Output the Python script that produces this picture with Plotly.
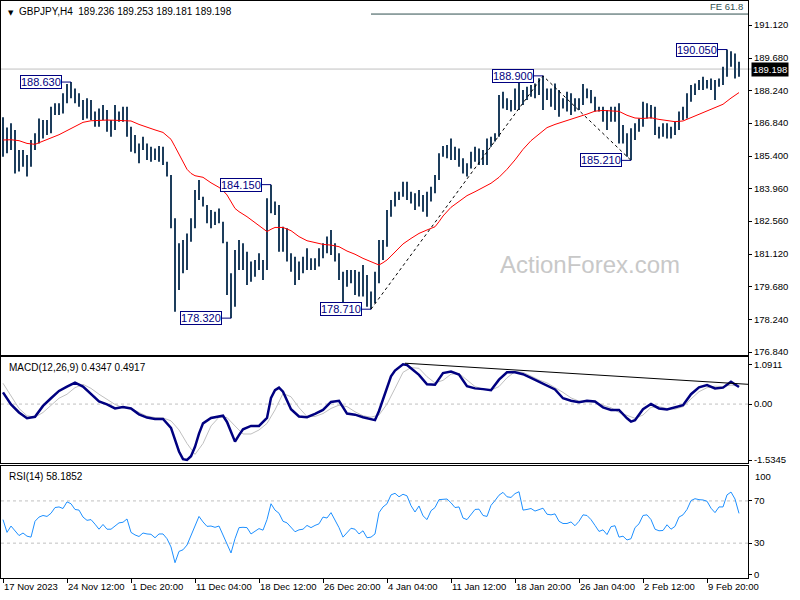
import plotly.graph_objects as go

# ---------------- data ----------------
symbol_text = "GBPJPY,H4"
last_ohlc = [189.236, 189.253, 189.181, 189.198]
BARS_PER_SAMPLE = 2  # every sample below summarises two H4 bars

bar_high = [187.09,186.65,186.83,186.54,185.66,185.66,185.44,186.10,186.39,187.04,
            186.97,186.97,187.55,187.70,187.70,188.14,188.55,188.63,188.35,188.14,
            187.85,187.92,187.85,187.34,187.48,187.63,187.41,186.97,187.63,187.34,
            187.55,187.55,186.68,186.32,185.95,186.24,185.95,185.81,185.73,185.84,
            185.81,185.15,184.57,182.68,181.59,181.73,182.02,182.68,183.92,184.35,
            183.62,183.26,183.04,182.97,183.11,182.53,181.66,180.28,181.30,181.73,
            181.59,181.22,180.79,180.86,181.15,180.86,183.55,184.15,183.41,183.26,
            182.31,182.24,181.15,181.00,180.79,181.00,181.37,180.93,180.93,181.37,
            181.59,181.88,182.17,181.59,181.15,180.35,180.42,180.42,180.42,180.35,
            180.64,180.20,179.48,180.35,181.73,181.73,183.04,183.48,183.84,183.84,
            184.28,184.28,183.84,183.77,183.92,183.70,183.84,184.06,184.57,185.52,
            185.84,185.88,186.17,185.81,185.73,185.30,185.08,185.59,185.81,185.73,
            185.66,186.17,186.24,186.39,188.06,188.21,187.92,187.85,188.35,188.85,
            188.28,188.43,188.50,188.57,188.80,188.90,188.35,188.35,188.57,188.28,
            187.92,188.21,188.14,187.92,187.92,188.55,188.35,188.28,187.99,187.55,
            187.55,187.41,187.55,187.55,187.70,186.75,186.39,186.61,186.83,187.04,
            187.77,187.70,187.63,187.55,186.68,186.83,186.83,186.68,186.90,187.34,
            187.55,188.14,188.50,188.57,188.72,188.86,188.72,188.79,188.72,188.79,
            189.30,190.05,189.98,189.88,189.52]
bar_low = [185.37,185.52,185.66,184.64,184.72,184.93,184.50,184.93,185.66,185.95,
           186.17,186.32,186.39,187.19,187.19,187.26,187.70,187.92,187.70,187.55,
           186.97,187.04,186.97,186.68,186.68,186.97,186.46,186.24,186.54,186.90,
           186.90,186.24,185.59,185.52,185.08,185.66,185.23,185.15,185.23,185.15,
           185.01,184.50,182.24,178.60,179.55,180.28,180.42,181.66,182.24,183.48,
           183.19,182.46,182.24,182.39,182.46,181.59,179.33,178.32,178.82,180.42,
           180.42,179.77,179.91,180.13,180.42,179.99,180.42,182.90,182.82,181.22,
           181.22,180.79,180.35,179.77,179.99,180.28,180.42,180.42,180.42,180.57,
           180.93,181.15,181.08,180.79,179.99,178.97,179.69,179.84,179.33,179.26,
           179.26,178.82,178.71,178.97,179.84,180.86,181.44,182.75,183.19,183.48,
           183.62,183.48,183.33,183.04,183.19,182.97,182.75,183.41,183.77,184.35,
           185.37,185.30,185.23,185.23,184.93,184.64,184.50,184.86,185.15,185.01,
           185.01,185.01,185.81,186.03,186.24,187.48,187.41,187.34,187.41,187.41,
           187.63,187.85,187.99,187.92,188.06,187.41,187.85,187.55,187.41,187.12,
           187.48,187.34,187.19,187.34,187.41,187.63,187.92,187.70,187.34,187.34,
           186.90,186.54,186.90,186.90,185.95,185.95,185.37,185.21,186.10,186.46,
           186.68,187.04,187.04,186.32,186.17,186.24,186.17,186.17,186.32,186.54,
           186.97,187.04,187.77,188.06,188.28,188.28,188.35,188.28,187.85,188.43,
           188.50,188.86,189.30,188.79,188.86]

ma_k = [0,2,4,6,8,10,12,14,16,18,20,22,24,26,28,30,32,34,36,38,40,42,
        43,44,45,46,47,48,50,52,54,55,56,57,58,59,61,63,65,66,67,68,
        70,72,74,76,78,80,82,84,86,88,90,92,93,94,95,96,97,98,
        100,102,104,106,108,109,110,
        112,114,116,118,120,122,124,126,128,130,132,134,136,138,140,142,144,146,
        148,150,152,154,156,158,160,162,164,166,168,170,172,174,176,178,180,182,184]
ma_val = [186.10,186.11,186.07,185.95,185.91,186.04,186.20,186.33,186.51,186.69,186.87,
          186.94,186.97,186.97,186.96,186.96,186.93,186.78,186.65,186.54,186.43,186.13,
          185.81,185.49,185.12,184.82,184.64,184.54,184.47,184.23,184.03,183.89,183.70,
          183.41,183.11,182.97,182.75,182.49,182.24,182.10,182.20,182.28,
          182.28,182.14,181.88,181.70,181.62,181.54,181.51,181.44,181.25,181.11,180.93,180.79,
          180.71,180.64,180.74,180.86,181.03,181.22,
          181.56,181.80,182.02,182.17,182.31,182.53,182.78,
          183.16,183.41,183.67,183.84,184.02,184.21,184.47,184.82,185.23,185.69,186.07,186.36,
          186.64,186.78,186.90,187.03,187.12,187.23,187.36,187.39,187.36,187.35,187.18,187.06,
          187.04,187.07,187.00,186.96,186.90,186.93,187.07,187.23,187.38,187.50,187.66,187.93,188.17]

macd_k = [0,2,4,6,8,10,12,14,16,18,
          20,22,24,26,28,30,32,34,36,38,
          40,42,43,44,45,46,47,48,49,50,
          52,54,55,56,57,58,59,60,62,64,
          66,67,68,69,70,71,72,74,76,78,
          80,82,84,86,88,90,92,93,94,95,
          96,97,98,99,100,101,102,104,106,108,
          109,110,112,114,116,118,120,122,124,126,
          128,130,132,134,136,138,140,142,144,146,
          148,150,152,154,156,157,158,160,162,164,
          166,168,170,172,174,176,178,180,182,184]
macd_main = [0.32,-0.01,-0.23,-0.39,-0.35,-0.05,0.16,0.36,0.48,0.59,
             0.48,0.27,0.07,-0.01,-0.12,-0.08,-0.12,-0.28,-0.37,-0.41,
             -0.41,-0.65,-0.99,-1.30,-1.51,-1.53,-1.43,-1.17,-0.81,-0.53,
             -0.38,-0.33,-0.32,-0.49,-0.76,-1.03,-0.85,-0.69,-0.60,-0.60,
             -0.38,0.17,0.38,0.45,0.34,0.08,-0.14,-0.34,-0.36,-0.27,
             -0.16,0.06,0.09,-0.26,-0.29,-0.36,-0.42,-0.44,-0.19,0.14,
             0.45,0.76,0.92,1.01,1.09,1.07,0.98,0.80,0.54,0.53,
             0.69,0.85,0.89,0.81,0.49,0.43,0.41,0.38,0.67,0.87,
             0.87,0.82,0.72,0.61,0.50,0.40,0.16,0.09,0.05,0.09,
             0.07,-0.09,-0.16,-0.16,-0.39,-0.48,-0.44,-0.14,0.00,-0.12,
             -0.15,-0.10,-0.03,0.27,0.46,0.52,0.43,0.45,0.61,0.47]
signal_k = list(range(0, 185, 2))
macd_signal = [0.57,0.23,-0.12,-0.32,-0.36,-0.23,-0.03,0.16,0.27,0.45,
               0.54,0.43,0.27,0.13,-0.01,-0.10,-0.12,-0.23,-0.33,-0.37,
               -0.38,-0.46,-0.71,-1.08,-1.38,-1.08,-0.60,-0.36,-0.37,-0.60,
               -0.82,-0.82,-0.71,-0.53,-0.16,0.29,0.20,-0.10,-0.34,-0.34,
               -0.26,-0.12,-0.03,-0.07,-0.21,-0.32,-0.36,-0.30,0.00,0.43,
               0.87,1.00,0.98,0.75,0.58,0.65,0.82,0.84,0.66,0.48,
               0.41,0.38,0.48,0.72,0.89,0.87,0.77,0.66,0.58,0.46,
               0.32,0.17,0.08,0.06,0.05,-0.03,-0.10,-0.23,-0.32,-0.39,
               -0.30,-0.09,-0.07,-0.12,-0.14,-0.07,0.14,0.34,0.45,0.49,
               0.48,0.52,0.49]
macd_last = [0.4347, 0.4917]
macd_trend_k = [100.5, 186.5]
macd_trend_val = [1.12, 0.54]

rsi_val = [52.3,40.2,46.2,41.7,37.2,39.6,36.6,35.7,50.7,54.7,
           56.2,55.3,58.3,63.7,64.3,62.8,69.1,67.3,61.9,61.3,
           54.7,51.6,52.3,48.0,43.2,47.7,43.2,43.2,46.2,49.2,
           49.8,52.9,40.2,37.8,36.3,39.6,38.7,38.4,35.1,38.7,
           38.7,34.2,26.4,11.5,22.2,23.7,28.2,37.2,44.7,55.3,
           50.1,45.9,46.2,45.0,46.2,37.2,29.1,20.7,34.2,44.7,
           45.0,44.7,38.7,41.1,43.8,42.3,52.3,67.3,61.3,58.3,
           50.7,49.2,44.7,40.8,42.6,43.2,46.8,44.7,46.8,48.3,
           54.7,53.8,58.9,52.3,44.7,35.7,39.6,44.1,43.2,38.7,
           41.7,35.1,35.7,38.7,58.9,64.3,67.3,75.7,77.2,73.9,
           76.3,74.8,65.5,59.5,65.2,55.9,52.3,60.7,63.7,71.2,
           71.5,71.8,68.2,63.7,64.3,53.8,52.3,56.8,61.9,62.2,
           56.2,55.3,65.8,70.3,75.4,78.1,73.9,73.3,76.9,78.7,
           61.3,61.9,62.8,60.4,61.6,63.1,57.4,56.8,57.7,50.7,
           48.6,48.6,50.1,46.5,50.7,56.8,56.2,52.3,46.8,41.1,
           42.6,38.1,45.6,46.5,35.7,36.6,33.0,34.2,44.7,48.3,
           56.2,56.8,52.3,43.2,41.7,42.0,47.4,43.2,45.9,54.7,
           56.8,61.9,70.3,72.1,71.2,70.9,69.7,63.1,58.9,64.3,
           64.3,75.7,78.4,71.8,58.2]
rsi_last = 58.1852
rsi_levels = [70, 30]
rsi_bounds = [100, 0]

pivot_k = [17, 67, 57, 92, 135, 157, 181]
pivot_val = [188.630, 184.150, 178.320, 178.710, 188.900, 185.210, 190.050]
fe_k = [92, 135, 157]
fe_val = [178.710, 188.900, 185.210]
fe_level = 191.60
fe_label = "FE 61.8"

price_ticks = [191.12, 189.68, 188.24, 186.84, 185.40, 183.96, 182.56, 181.12, 179.68, 178.24, 176.84]
macd_ticks = [1.0911, 0.0, -1.5345]
macd_tick_text = ["1.0911", "0.00", "-1.5345"]
x_tick_bar = [0, 32, 64, 96, 128, 160, 192, 224, 256, 288, 320, 352]
x_tick_text = ["17 Nov 2023", "24 Nov 12:00", "1 Dec 20:00", "11 Dec 04:00", "18 Dec 12:00",
               "26 Dec 20:00", "4 Jan 04:00", "11 Jan 12:00", "18 Jan 20:00", "26 Jan 04:00",
               "2 Feb 12:00", "9 Feb 20:00"]

assert len(bar_high) == len(bar_low) == len(rsi_val)
assert len(ma_k) == len(ma_val)
assert len(macd_k) == len(macd_main)
assert len(signal_k) == len(macd_signal)

# ---------------- styling ----------------
BAR_COLOR = "#1d3d5c"
NAVY = "#000080"
FONT = "Liberation Sans"
TICK_SIZE = 9.5
X_RANGE = [-1, 372.5]
LABEL_GAP = 4.5  # bars between label box and the bar it marks

def nx(ks):
    return [k * BARS_PER_SAMPLE for k in ks]

fig = go.Figure()

# OHLC bars drawn as high-low strokes
bx, by = [], []
for k, (h, l) in enumerate(zip(bar_high, bar_low)):
    n = k * BARS_PER_SAMPLE
    bx += [n, n, None]
    by += [l, h, None]
fig.add_trace(go.Scatter(x=bx, y=by, mode="lines", line=dict(color=BAR_COLOR, width=2),
                         xaxis="x3", yaxis="y3", hoverinfo="skip"))
fig.add_trace(go.Scatter(x=nx(ma_k), y=ma_val, mode="lines", line=dict(color="#ff0000", width=1),
                         xaxis="x3", yaxis="y3", hoverinfo="skip"))
fig.add_trace(go.Scatter(x=nx(fe_k), y=fe_val, mode="lines",
                         line=dict(color="#000000", width=1, dash="dot"),
                         xaxis="x3", yaxis="y3", hoverinfo="skip"))
fig.add_trace(go.Scatter(x=[fe_k[0] * BARS_PER_SAMPLE, X_RANGE[1]], y=[fe_level, fe_level], mode="lines",
                         line=dict(color="#2f4f4f", width=1), xaxis="x3", yaxis="y3", hoverinfo="skip"))

# MACD
fig.add_trace(go.Scatter(x=nx(signal_k), y=macd_signal, mode="lines", line=dict(color="#c0c0c0", width=1),
                         xaxis="x2", yaxis="y2", hoverinfo="skip"))
fig.add_trace(go.Scatter(x=nx(macd_k), y=macd_main, mode="lines", line=dict(color=NAVY, width=2.5),
                         xaxis="x2", yaxis="y2", hoverinfo="skip"))
fig.add_trace(go.Scatter(x=nx(macd_trend_k), y=macd_trend_val, mode="lines", line=dict(color="#000000", width=1),
                         xaxis="x2", yaxis="y2", hoverinfo="skip"))

# RSI
fig.add_trace(go.Scatter(x=nx(range(len(rsi_val))), y=rsi_val, mode="lines", line=dict(color="#1e90ff", width=1),
                         xaxis="x", yaxis="y", hoverinfo="skip"))

shapes = []
shapes.append(dict(type="line", xref="paper", x0=0, x1=1.006, yref="y3", y0=last_ohlc[3], y1=last_ohlc[3],
                   line=dict(color="#c0c0c0", width=1), layer="below"))
shapes.append(dict(type="line", xref="paper", x0=0, x1=1, yref="y2", y0=0, y1=0,
                   line=dict(color="#c0c0c0", width=1, dash="3px,3px"), layer="below"))
for lv in rsi_levels:
    shapes.append(dict(type="line", xref="paper", x0=0, x1=1, yref="y", y0=lv, y1=lv,
                       line=dict(color="#c0c0c0", width=1, dash="3px,3px"), layer="below"))
for k, v in zip(pivot_k, pivot_val):
    n = k * BARS_PER_SAMPLE
    shapes.append(dict(type="line", xref="x3", yref="y3", x0=n - LABEL_GAP, x1=n, y0=v, y1=v,
                       line=dict(color=NAVY, width=1)))

annotations = []
for k, v in zip(pivot_k, pivot_val):
    n = k * BARS_PER_SAMPLE
    annotations.append(dict(x=n - LABEL_GAP, y=v, xref="x3", yref="y3", text=f"{v:.3f}", showarrow=False,
                            xanchor="right", yanchor="middle", font=dict(family=FONT, size=11, color=NAVY),
                            bgcolor="#ffffff", bordercolor=NAVY, borderwidth=1, borderpad=0))
annotations.append(dict(x=0, y=1, xref="paper", yref="paper", xanchor="left", yanchor="top", xshift=5, yshift=-6,
                        text="▼", showarrow=False, font=dict(family="DejaVu Sans", size=7, color="#000000")))
annotations.append(dict(x=0, y=1, xref="paper", yref="paper", xanchor="left", yanchor="top", xshift=16, yshift=-3,
                        text=f"{symbol_text}  " + " ".join(f"{v:.3f}" for v in last_ohlc), showarrow=False,
                        font=dict(family=FONT, size=10, color="#000000")))
annotations.append(dict(x=0, y=1, xref="paper", yref="y2 domain", xanchor="left", yanchor="top", xshift=6, yshift=-3,
                        text=f"MACD(12,26,9) {macd_last[0]:.4f} {macd_last[1]:.4f}", showarrow=False,
                        font=dict(family=FONT, size=10, color="#000000")))
annotations.append(dict(x=0, y=1, xref="paper", yref="y domain", xanchor="left", yanchor="top", xshift=6, yshift=-3,
                        text=f"RSI(14) {rsi_last:.4f}", showarrow=False,
                        font=dict(family=FONT, size=10, color="#000000")))
# upper RSI bound label drawn just inside the panel edge, as the terminal does
annotations.append(dict(x=1, y=rsi_bounds[0], xref="paper", yref="y", xanchor="left", yanchor="middle",
                        xshift=5, yshift=-7, text=f"{rsi_bounds[0]}", showarrow=False,
                        font=dict(family=FONT, size=TICK_SIZE, color="#000000")))
annotations.append(dict(x=1, y=last_ohlc[3], xref="paper", yref="y3", xanchor="left", yanchor="middle", xshift=3,
                        text=f"{last_ohlc[3]:.3f}", showarrow=False, bgcolor="#000000", borderpad=1,
                        font=dict(family=FONT, size=TICK_SIZE, color="#ffffff")))
annotations.append(dict(x=1, y=fe_level, xref="paper", yref="y3", xanchor="right", yanchor="bottom", xshift=-3,
                        text=fe_label, showarrow=False, font=dict(family=FONT, size=TICK_SIZE, color="#2f4f4f")))
annotations.append(dict(x=0.788, y=0.257, xref="paper", yref="y3 domain", xanchor="center", yanchor="middle",
                        text="ActionForex.com", showarrow=False,
                        font=dict(family=FONT, size=24, color="#c8c8c8")))

axis_common = dict(showline=True, mirror=True, linecolor="#000000", linewidth=1, showgrid=False,
                   zeroline=False, fixedrange=True, automargin=False)
yaxis_common = dict(axis_common, side="right", ticks="outside", ticklen=3, tickcolor="#000000",
                    tickfont=dict(family=FONT, size=TICK_SIZE, color="#000000"))

rsi_tickvals = rsi_levels + [rsi_bounds[1]]

fig.update_layout(
    width=800, height=600,
    margin=dict(l=1, r=52, t=1, b=22),
    paper_bgcolor="#ffffff", plot_bgcolor="#ffffff",
    showlegend=False, hovermode=False,
    font=dict(family=FONT, size=TICK_SIZE, color="#000000"),
    xaxis=dict(axis_common, domain=[0, 1], anchor="y", range=X_RANGE, tickmode="array",
               tickvals=x_tick_bar, ticktext=x_tick_text, ticks="outside", ticklen=4, tickcolor="#000000",
               tickangle=0, ticklabelposition="outside right",
               tickfont=dict(family=FONT, size=TICK_SIZE, color="#000000")),
    xaxis2=dict(axis_common, domain=[0, 1], anchor="y2", matches="x", showticklabels=False, ticks=""),
    xaxis3=dict(axis_common, domain=[0, 1], anchor="y3", matches="x", showticklabels=False, ticks=""),
    yaxis=dict(yaxis_common, domain=[0, 0.194], anchor="x", range=[-3, 103],
               tickmode="array", tickvals=rsi_tickvals, ticktext=[str(t) for t in rsi_tickvals]),
    yaxis2=dict(yaxis_common, domain=[0.199, 0.383], anchor="x2", range=[-1.62, 1.29],
                tickmode="array", tickvals=macd_ticks, ticktext=macd_tick_text),
    yaxis3=dict(yaxis_common, domain=[0.3865, 1.0], anchor="x3", range=[176.71, 192.17],
                tickmode="array", tickvals=price_ticks, ticktext=[f"{t:.3f}" for t in price_ticks]),
    shapes=shapes, annotations=annotations,
)

fig.write_html("out.html", config={"displayModeBar": False},
               post_script="document.body.style.margin='0px';document.body.style.overflow='hidden';")
